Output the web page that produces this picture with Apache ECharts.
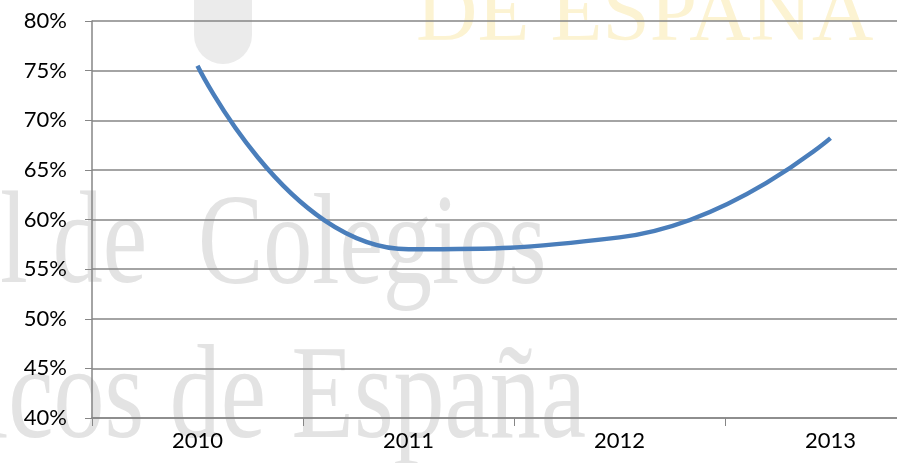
<!DOCTYPE html>
<html>
<head>
<meta charset="utf-8">
<script src="https://cdn.jsdelivr.net/npm/echarts@6/dist/echarts.min.js"></script>
<style>
  html, body { margin: 0; padding: 0; background: #fff; overflow: hidden; }
  #chart { width: 940px; height: 463px; }
</style>
</head>
<body>
<div id="chart"></div>
<script>
// categorias y valores
var years = ['2010', '2011', '2012', '2013']
var values = [75.5, 57.0, 58.2, 68.2]
var yMin = 40
var yMax = 80
var yStep = 5

var chart = echarts.init(document.getElementById('chart'))
var option = {
  animation: false,
  backgroundColor: '#fff',
  // marca de agua del fondo
  graphic: [
    {
      type: 'rect',
      z: -2,
      shape: { x: 194, y: -40, width: 58, height: 104, r: [0, 0, 29, 29] },
      style: { fill: '#ebebeb' }
    },
    {
      type: 'text',
      x: 0,
      y: 313,
      scaleY: 1.31,
      z: -1,
      style: { text: 'l de', font: '100px "Liberation Serif"', fill: '#e3e3e3', verticalAlign: 'bottom' }
    },
    {
      type: 'text',
      x: 198,
      y: 313,
      scaleY: 1.31,
      z: -1,
      style: { text: 'Colegios', font: '98px "Liberation Serif"', fill: '#e3e3e3', verticalAlign: 'bottom' }
    },
    {
      type: 'text',
      x: -20,
      y: 469,
      scaleY: 1.31,
      z: -1,
      style: { text: 'icos de España', font: '102px "Liberation Serif"', fill: '#e3e3e3', verticalAlign: 'bottom' }
    },
    {
      type: 'text',
      x: 416,
      y: 60,
      z: -1,
      style: { text: 'DE ESPAÑA', font: '85px "Liberation Serif"', fill: '#fcf3d2', verticalAlign: 'bottom' }
    }
  ],
  grid: {
    left: 92,
    right: 4,
    top: 21,
    bottom: 45
  },
  xAxis: {
    type: 'category',
    data: years,
    boundaryGap: true,
    axisLine: { lineStyle: { color: '#868686', width: 1.5 } },
    axisTick: { show: true, length: 8, lineStyle: { color: '#868686' } },
    axisLabel: { color: '#000', fontSize: 22, fontFamily: 'Lato', margin: 12 },
    splitLine: { show: false }
  },
  yAxis: {
    type: 'value',
    min: yMin,
    max: yMax,
    interval: yStep,
    axisLine: { show: true, lineStyle: { color: '#868686', width: 1.5 } },
    axisTick: { show: true, length: 7, lineStyle: { color: '#868686' } },
    axisLabel: {
      color: '#000',
      fontSize: 22,
      fontFamily: 'Lato',
      margin: 25,
      formatter: function (v) { return v + '%' }
    },
    splitLine: { show: true, lineStyle: { color: '#868686', width: 1.5 } }
  },
  series: [
    {
      type: 'line',
      data: values,
      smooth: 0.5,
      smoothMonotone: 'none',
      symbol: 'none',
      lineStyle: { color: '#4a7ebb', width: 4.5 }
    }
  ]
}
chart.setOption(option)
</script>
</body>
</html>
